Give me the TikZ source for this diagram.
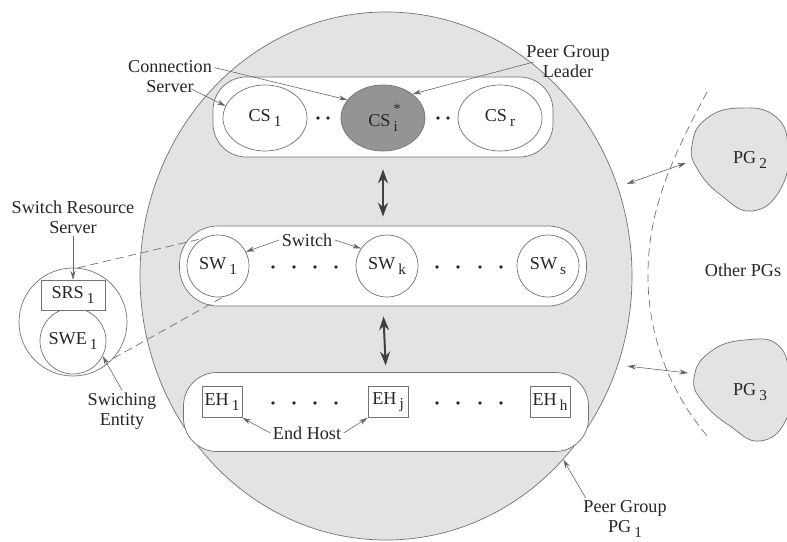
\documentclass[tikz,border=0pt]{standalone}
\usepackage{fontspec}
\setmainfont{Liberation Serif}
\usepackage{tikz}
\usetikzlibrary{positioning,arrows,arrows.meta,shapes.geometric}
\newcommand{\lowsub}[1]{\,\raisebox{-0.55ex}{\fontsize{13}{13}\selectfont #1}}
\newcommand{\leadsub}{\,\makebox[0pt][l]{\raisebox{1.55ex}{\fontsize{12}{12}\selectfont *}}\raisebox{-0.55ex}{\fontsize{13}{13}\selectfont i}}

\begin{document}
\begin{tikzpicture}[x=0.03cm, y=-0.03cm,
    every node/.style={font=\fontsize{15.5}{17}\selectfont, text=black!85},
    pgarea/.style={fill=gray!22, draw=black!55, line width=0.6pt},
    groupbox/.style={rectangle, draw=black!55, fill=white, line width=0.6pt},
    srvnode/.style={ellipse, draw=black!55, fill=white, line width=0.6pt, minimum width=2.52cm, minimum height=1.98cm, inner sep=0pt},
    leadnode/.style={srvnode, fill=black!42},
    swnode/.style={circle, draw=black!55, fill=white, line width=0.6pt, minimum size=1.86cm, inner sep=0pt},
    hostnode/.style={rectangle, draw=black!55, fill=white, line width=0.6pt, minimum width=1.2cm, minimum height=0.93cm, inner sep=1pt},
    lbl/.style={align=center, inner sep=2pt},
    dotnode/.style={circle, fill=black!85, inner sep=0pt, minimum size=3.2pt},
    pointer/.style={->, >={Stealth[length=2.6mm,width=1.5mm]}, draw=black!60, line width=0.5pt},
    pgarrow/.style={<->, >={Stealth[length=2.6mm,width=1.5mm]}, draw=black!60, line width=0.5pt},
    bigarrow/.style={<->, >={Stealth[length=4.2mm,width=3mm]}, draw=black!75, line width=1.7pt},
    link/.style={draw=black!55, line width=0.6pt, dash pattern=on 7pt off 4pt}
    ]
        \useasboundingbox (0,0) rectangle (787,542);

        %Peer group areas
        \node[pgarea, ellipse, minimum width=14.76cm, minimum height=15.84cm, inner sep=0pt]
            (pg1) at (386,276) {};
        \draw[pgarea] plot[smooth cycle, tension=0.8] coordinates
            {(692,145) (706,119) (740,108) (776,117) (788,150) (780,190) (752,211) (722,196) (698,170)};
        \draw[pgarea] plot[smooth cycle, tension=0.8] coordinates
            {(694,378) (710,352) (745,340) (779,346) (789,382) (786,420) (760,441) (730,426) (703,402)};
        \node (pg2) at (750,160) {PG\lowsub{2}};
        \node (pg3) at (750,392) {PG\lowsub{3}};

        %Groups
        \node[groupbox, rounded corners=1cm, minimum width=10.2cm, minimum height=2.4cm]
            (csbox) at (383,117) {};
        \node[groupbox, rounded corners=1.15cm, minimum width=12.21cm, minimum height=2.4cm]
            (swbox) at (383,266) {};
        \node[groupbox, rounded corners=1cm, minimum width=12.15cm, minimum height=2.37cm]
            (ehbox) at (386,412) {};

        %Nodes
        \node[srvnode]  (cs1) at (265,118) {CS\lowsub{1}};
        \node[leadnode] (csi) at (383,118) {CS\leadsub};
        \node[srvnode]  (csr) at (500,118) {CS\lowsub{r}};

        \node[swnode] (sw1) at (218,266) {SW\lowsub{1}};
        \node[swnode] (swk) at (387,266) {SW\lowsub{k}};
        \node[swnode] (sws) at (548,266) {SW\lowsub{s}};

        \node[hostnode] (eh1) at (222,402) {EH\lowsub{1}};
        \node[hostnode] (ehj) at (388,402) {EH\lowsub{j}};
        \node[hostnode] (ehh) at (550,402) {EH\lowsub{h}};

        \foreach \x in {318,328,438,448}
            \node[dotnode] at (\x,118) {};
        \foreach \x in {273,294,315,336,437,458,480,501} {
            \node[dotnode] at (\x,267) {};
            \node[dotnode] at (\x,403) {};
        }

        %Switch detail
        \node[circle, draw=black!55, fill=white, line width=0.6pt, minimum size=3.24cm, inner sep=0pt]
            (swegrp) at (73,322) {};
        \node[swnode, minimum size=1.98cm] (swe1) at (73,341) {SWE\lowsub{1}};
        \node[hostnode, minimum width=1.92cm, minimum height=0.9cm] (srs1) at (73,295) {SRS\lowsub{1}};

        %Labels
        \node[lbl] (conlbl)   at (170,77)  {Connection\\Server};
        \node[lbl] (leadlbl)  at (568,62)  {Peer Group\\Leader};
        \node[lbl] (srslbl)   at (73,217)  {Switch Resource\\Server};
        \node[lbl] (entlbl)   at (122,411) {Swiching\\Entity};
        \node[lbl] (swlbl)    at (307,240) {Switch};
        \node[lbl] (ehlbl)    at (307,433) {End Host};
        \node[lbl] (otherlbl) at (743,270) {Other PGs};
        \node[lbl] (pglbl)    at (625,519) {Peer Group\\PG\lowsub{1}};

        %Lines
        \draw[bigarrow, shorten <=0.36cm, shorten >=0.27cm] (csbox.south) -- (swbox.north);
        \draw[bigarrow, shorten <=0.3cm, shorten >=0.2cm] (swbox.south) -- (ehbox.north);

        \draw[link] (swegrp.85) -- (sw1.118);
        \draw[link] (swegrp.-42) -- (sw1.-80);

        \draw[pointer] (conlbl.12) -- (csi.153);
        \draw[pointer] ([xshift=-0.7cm,yshift=0.2cm]conlbl.south east) -- (cs1.163);
        \draw[pointer] ([xshift=0.3cm]leadlbl.west) -- (csi.39);
        \draw[pointer] (srslbl.south) -- (srs1.north);
        \draw[pointer] (entlbl.north) -- (swe1.-27);
        \draw[pointer] (swlbl.west) -- (sw1.27);
        \draw[pointer] (swlbl.east) -- (swk.146);
        \draw[pointer] (ehlbl.west) -- (eh1.south east);
        \draw[pointer] (ehlbl.east) -- (ehj.south west);
        \draw[pointer] ([xshift=0.15cm]pglbl.north west) -- (pg1.-46);

        \coordinate (pg2tip) at (686,163);
        \coordinate (pg3tip) at (688,373);
        \draw[pgarrow, shorten <=0.28cm] (pg1.21) -- (pg2tip);
        \draw[pgarrow, shorten <=0.28cm] (pg1.-21) -- (pg3tip);

        \coordinate (bordtop) at (707,92);
        \coordinate (bordbot) at (709,438);
        \draw[link] (bordtop) .. controls (668,165) and (647,215) .. (648,280)
            .. controls (649,350) and (680,405) .. (bordbot);
    \end{tikzpicture}
\end{document}
